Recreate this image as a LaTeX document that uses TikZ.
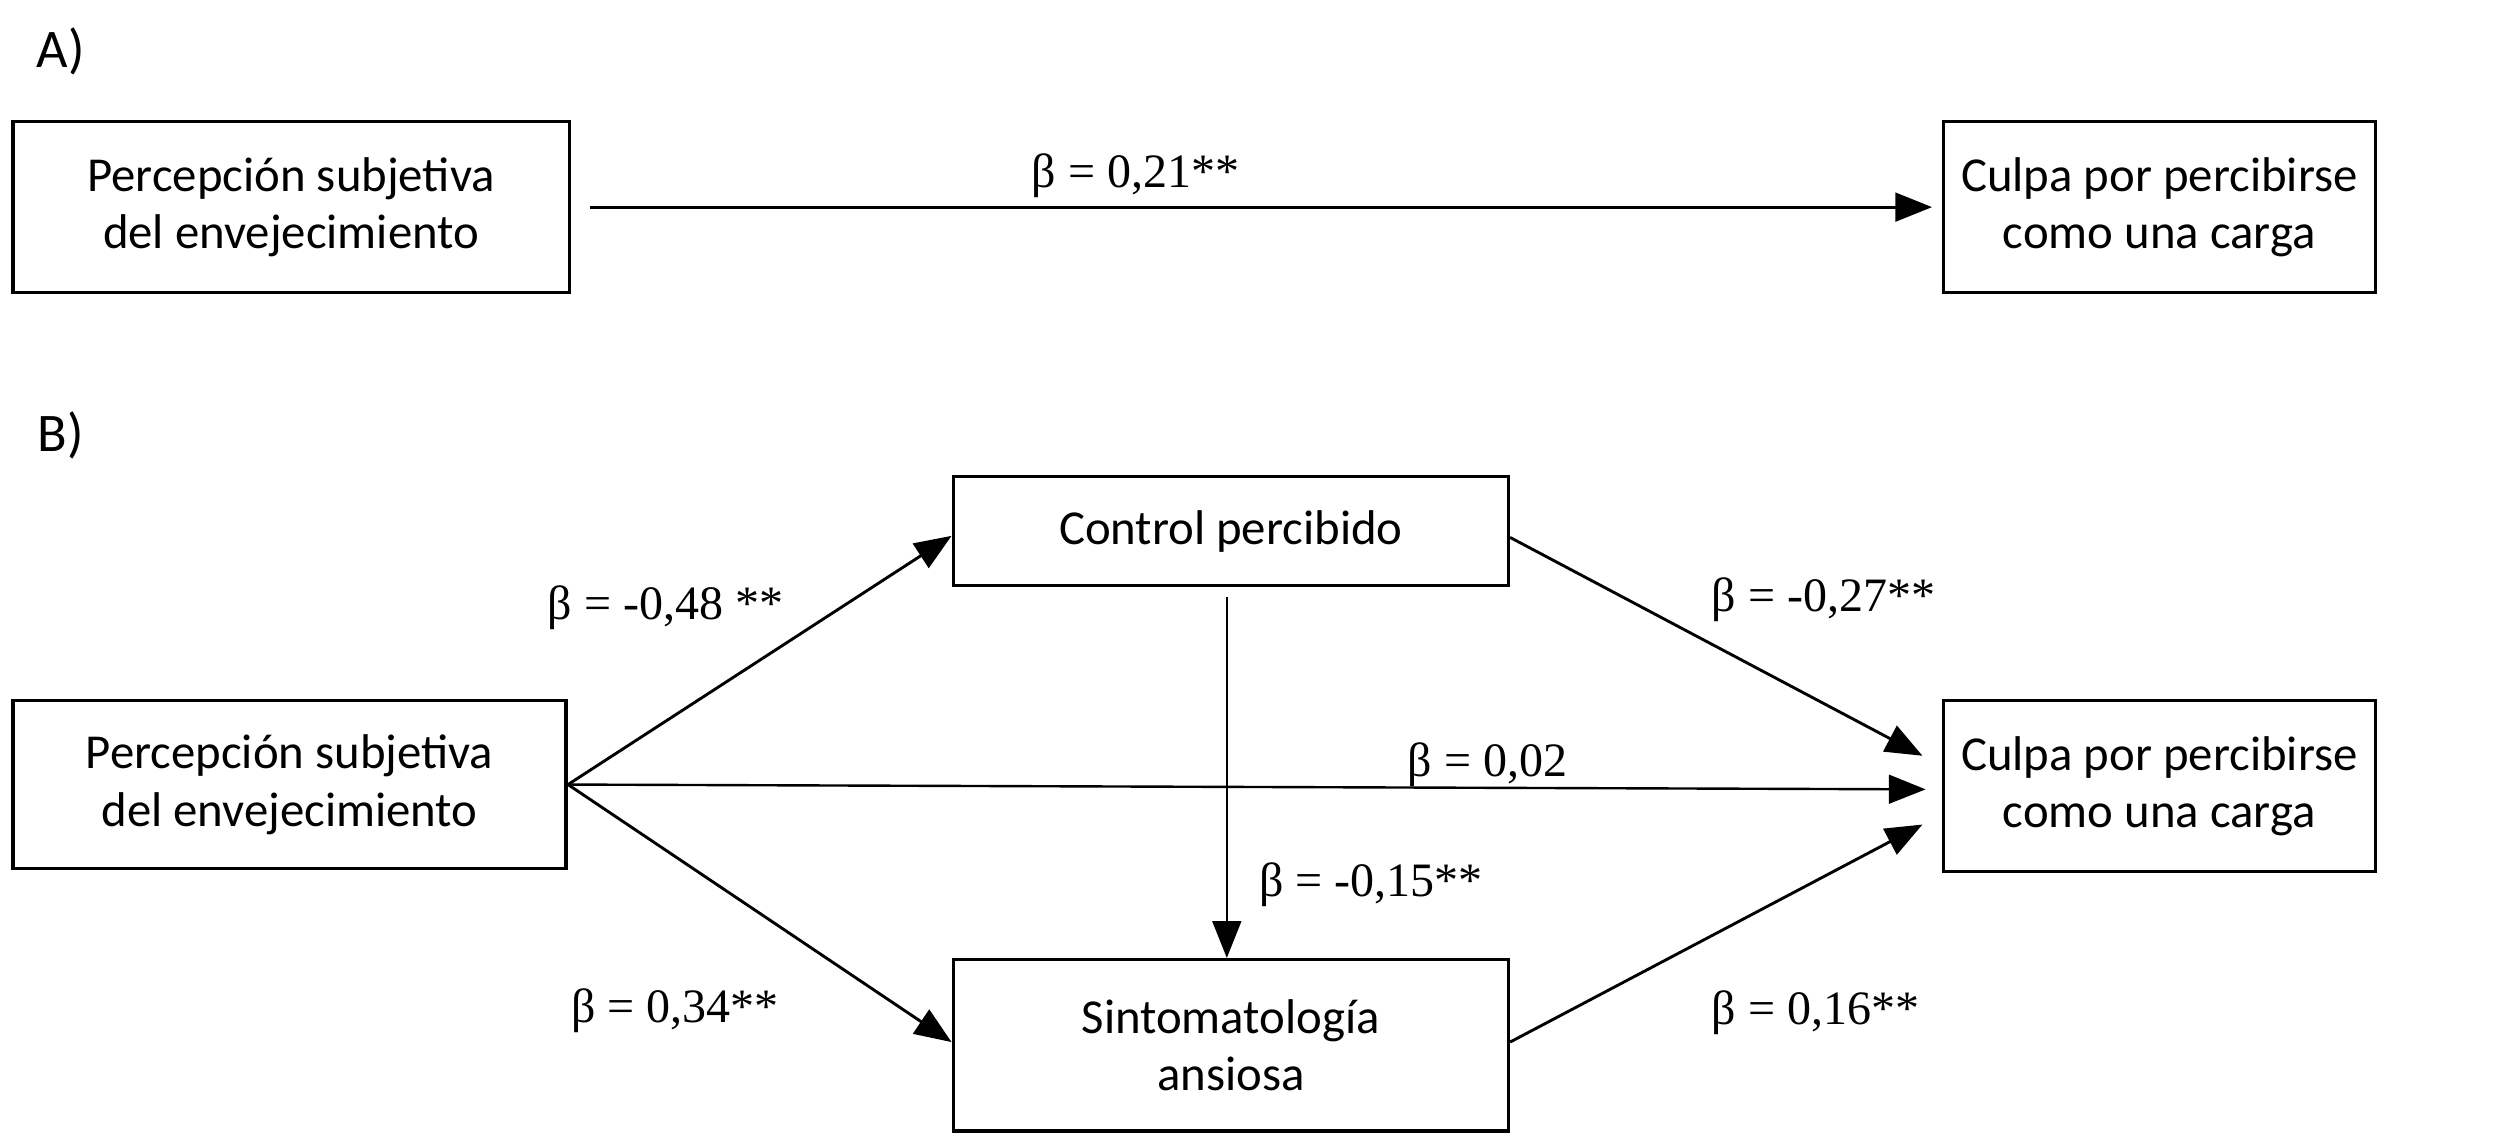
\documentclass[tikz,border=0pt]{standalone}
\usepackage{fontspec}
\setmainfont{Carlito}
\newfontfamily\lblfont{Liberation Serif}
\usetikzlibrary{arrows.meta}
\begin{document}
\begin{tikzpicture}[x=1pt,y=-1pt,
 box/.style={draw, line width=2.2pt, align=center, font=\fontsize{30.5}{36}\selectfont, inner sep=0pt},
 arr/.style={line width=1.8pt, -{Triangle[length=23pt,width=18pt]}},
 lbl/.style={font=\lblfont\fontsize{30}{34}\selectfont, inner sep=0pt},
 tag/.style={font=\fontsize{34}{38}\selectfont, inner sep=0pt}]
\useasboundingbox (0,0) rectangle (1568,712);
% Panel A
\node[tag] (ta) at (38,32) {A)};
\node[box, minimum width=348pt, minimum height=107pt] (a1) at (182,129.5) {Percepción subjetiva\\del envejecimiento};
\node[box, minimum width=270pt, minimum height=107pt] (a2) at (1350,129.5) {Culpa por percibirse\\como una carga};
\draw[arr] ([xshift=12pt]a1.east) -- ([xshift=-6pt]a2.west);
\node[lbl] (la) at (710,110) {β = 0,21**};
% Panel B
\node[tag] (tb) at (38,272) {B)};
\node[box, minimum width=346pt, minimum height=105pt] (bl) at (181,490.5) {Percepción subjetiva\\del envejecimiento};
\node[box, minimum width=347pt, minimum height=68pt] (ctrl) at (769.5,332) {Control percibido};
\node[box, minimum width=347pt, minimum height=107pt] (sin) at (769.5,653.5) {Sintomatología\\ansiosa};
\node[box, minimum width=270pt, minimum height=107pt] (cb) at (1350,491.5) {Culpa por percibirse\\como una carga};
\draw[arr] (bl.east) -- ([yshift=-3pt]ctrl.west);
\draw[arr] (bl.east) -- ([yshift=2pt]sin.west);
\draw[arr, line width=1.5pt] (bl.east) -- ([xshift=-10pt,yshift=-2pt]cb.west);
\draw[arr] ([yshift=-4pt]ctrl.east) -- ([xshift=-12pt,yshift=19pt]cb.west);
\draw[arr] ([yshift=2pt]sin.east) -- ([xshift=-12pt,yshift=-24pt]cb.west);
\draw[arr, line width=1.3pt] ([xshift=-2.5pt,yshift=-6pt]ctrl.south) -- ([xshift=-2.5pt]sin.north);
\node[lbl] (l1) at (416,380) {β = -0,48 **};
\node[lbl] (l2) at (1140,375) {β = -0,27**};
\node[lbl] (l3) at (930,478) {β = 0,02};
\node[lbl] (l4) at (857,553) {β = -0,15**};
\node[lbl] (l5) at (422,632) {β = 0,34**};
\node[lbl] (l6) at (1135,633) {β = 0,16**};
\end{tikzpicture}
\end{document}
